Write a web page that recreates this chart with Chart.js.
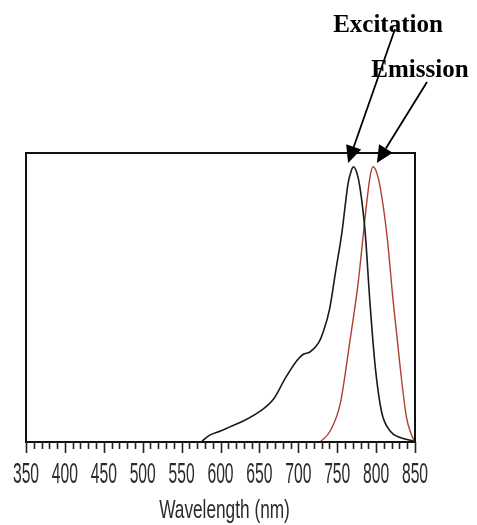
<!DOCTYPE html>
<html>
<head>
<meta charset="utf-8">
<script src="https://cdn.jsdelivr.net/npm/chart.js@4/dist/chart.umd.min.js"></script>
<style>
  html, body { margin: 0; padding: 0; background: #fff; }
  #grafico { display: block; }
</style>
</head>
<body>
<canvas id="grafico" width="477" height="525"></canvas>
<script>
// espectro de excitação (preto)
const excitacaoNm = [575, 586, 600, 612, 630, 650, 668, 683, 698, 706, 715, 726, 732, 740, 748, 756, 764, 768, 771, 775, 779, 786, 792, 799, 807, 818, 831, 848]
const excitacaoVal = [0, 0.025, 0.04, 0.055, 0.077, 0.11, 0.155, 0.23, 0.295, 0.318, 0.327, 0.36, 0.40, 0.48, 0.62, 0.76, 0.94, 0.985, 1.0, 0.98, 0.93, 0.76, 0.51, 0.27, 0.11, 0.04, 0.016, 0.004]

// espectro de emissão (vermelho)
const emissaoNm = [728, 741, 754, 766, 777, 786, 792, 796, 800, 805, 814, 822, 831, 839, 845, 850]
const emissaoVal = [0, 0.04, 0.14, 0.36, 0.58, 0.82, 0.96, 1.0, 0.985, 0.93, 0.75, 0.51, 0.27, 0.09, 0.03, 0]

// rótulos do eixo x
const rotulosX = [350, 400, 450, 500, 550, 600, 650, 700, 750, 800, 850]
const tituloX = 'Wavelength (nm)'

// anotações com setas
const anotacoes = [
  { texto: 'Excitation', alvoNm: 764 },
  { texto: 'Emission', alvoNm: 801 },
]

const paraPontos = (xs, ys) => xs.map((x, i) => ({ x, y: ys[i] }))

// texto comprimido na horizontal (a fonte original é condensada)
const textoEstreito = (ctx, texto, x, y, fator) => {
  ctx.save()
  ctx.translate(x, y)
  ctx.scale(fator, 1)
  ctx.fillText(texto, 0, 0)
  ctx.restore()
}

// desenha a moldura, as marcas do eixo, rótulos e as anotações
const pluginMoldura = {
  id: 'moldura',
  afterDraw(chart) {
    const { ctx, chartArea: area, scales } = chart
    const x = scales.x
    ctx.save()
    ctx.strokeStyle = '#111'
    ctx.lineWidth = 2
    ctx.strokeRect(area.left, area.top, area.right - area.left, area.bottom - area.top)

    // marcas do eixo: curtas a cada 10, longas a cada 50
    ctx.lineWidth = 1.6
    ctx.strokeStyle = '#222'
    for (let v = 350; v <= 850; v += 10) {
      const px = Math.round(x.getPixelForValue(v)) + 0.5
      const comprimento = v % 50 === 0 ? 11 : 7
      ctx.beginPath()
      ctx.moveTo(px, area.bottom)
      ctx.lineTo(px, area.bottom + comprimento)
      ctx.stroke()
    }

    // rótulos das marcas e título do eixo
    ctx.fillStyle = '#2b2b2b'
    ctx.textAlign = 'center'
    ctx.textBaseline = 'alphabetic'
    ctx.font = '29px "Liberation Sans", Arial, sans-serif'
    rotulosX.forEach(v => {
      textoEstreito(ctx, String(v), x.getPixelForValue(v), area.bottom + 41, 0.54)
    })
    ctx.font = '25px "Liberation Sans", Arial, sans-serif'
    textoEstreito(ctx, tituloX, (area.left + area.right) / 2 + 4, area.bottom + 76, 0.69)

    // textos e setas
    const caudas = [[395, 29], [427, 82]]
    const posTexto = [[388, 32], [420, 77]]
    ctx.fillStyle = '#000'
    ctx.strokeStyle = '#000'
    ctx.font = 'bold 25px "Liberation Serif", "Times New Roman", serif'
    anotacoes.forEach((a, i) => {
      ctx.fillText(a.texto, posTexto[i][0], posTexto[i][1])
      const tx = x.getPixelForValue(a.alvoNm)
      const ty = area.top + 10
      const [cx, cy] = caudas[i]
      const ang = Math.atan2(ty - cy, tx - cx)
      const tam = 17
      const larg = 8
      const bx = tx - tam * Math.cos(ang)
      const by = ty - tam * Math.sin(ang)
      ctx.lineWidth = 1.8
      ctx.beginPath()
      ctx.moveTo(cx, cy)
      ctx.lineTo(bx, by)
      ctx.stroke()
      ctx.beginPath()
      ctx.moveTo(tx, ty)
      ctx.lineTo(bx + larg * Math.sin(ang), by - larg * Math.cos(ang))
      ctx.lineTo(bx - larg * Math.sin(ang), by + larg * Math.cos(ang))
      ctx.closePath()
      ctx.fill()
    })
    ctx.restore()
  },
}

const fundoBranco = {
  id: 'fundoBranco',
  beforeDraw(chart) {
    const { ctx, width, height } = chart
    ctx.save()
    ctx.fillStyle = '#fff'
    ctx.fillRect(0, 0, width, height)
    ctx.restore()
  },
}

new Chart(document.getElementById('grafico').getContext('2d'), {
  type: 'line',
  data: {
    datasets: [
      {
        label: 'Excitation',
        data: paraPontos(excitacaoNm, excitacaoVal),
        borderColor: '#1a1a1a',
        borderWidth: 1.6,
        pointRadius: 0,
        cubicInterpolationMode: 'monotone',
        fill: false,
      },
      {
        label: 'Emission',
        data: paraPontos(emissaoNm, emissaoVal),
        borderColor: '#b0402e',
        borderWidth: 1.4,
        pointRadius: 0,
        cubicInterpolationMode: 'monotone',
        fill: false,
      },
    ],
  },
  options: {
    responsive: false,
    animation: false,
    layout: { padding: { top: 153, left: 26, right: 62, bottom: 83 } },
    plugins: { legend: { display: false }, tooltip: { enabled: false } },
    scales: {
      x: {
        type: 'linear',
        min: 350,
        max: 850,
        display: false,
      },
      y: {
        display: false,
        min: 0,
        max: 1.05,
      },
    },
  },
  plugins: [fundoBranco, pluginMoldura],
})
</script>
</body>
</html>
